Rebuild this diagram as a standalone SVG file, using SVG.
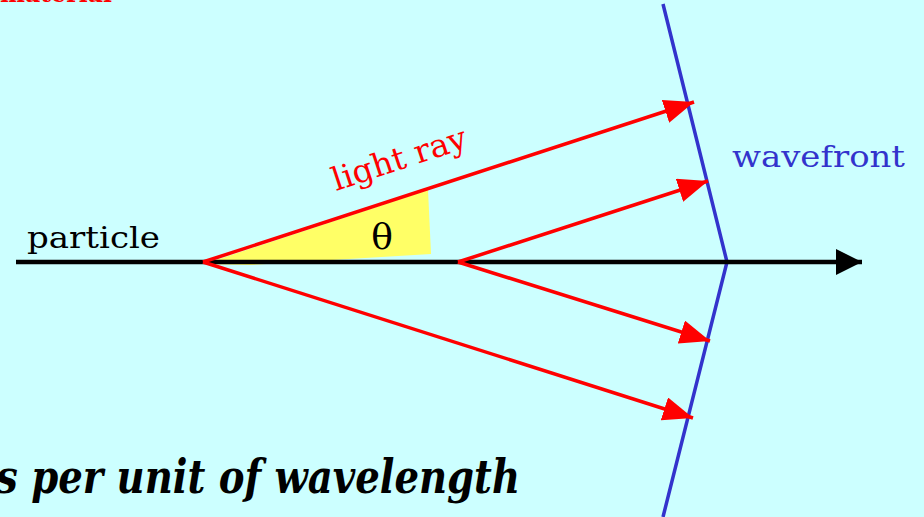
<svg xmlns="http://www.w3.org/2000/svg" width="924" height="517" viewBox="0 0 924 517">
<defs>
<style>
.ray{stroke:#FF0000;stroke-width:3.5;fill:none}
.serif{font-family:"DejaVu Serif","Liberation Serif",serif}
</style>
<marker id="ah" viewBox="0 0 30 24" refX="30" refY="12" markerWidth="30" markerHeight="24" markerUnits="userSpaceOnUse" orient="auto">
<path d="M0,0 L30,12 L0,24 Z" fill="#FF0000"/>
</marker>
<marker id="bh" viewBox="0 0 26 26" refX="26" refY="13" markerWidth="26" markerHeight="26" markerUnits="userSpaceOnUse" orient="auto">
<path d="M0,0 L26,13 L0,26 Z" fill="#000000"/>
</marker>
</defs>
<rect x="0" y="0" width="924" height="517" fill="#CCFFFF"/>
<g id="top-label">
<text class="serif" x="0" y="2" font-size="24" font-weight="bold" fill="#FF0000" textLength="112" lengthAdjust="spacingAndGlyphs">material</text>
</g>
<g id="angle">
<polygon points="204,264 428,190 431,254 250,265" fill="#FFFF66"/>
<text class="serif" x="382" y="249" font-size="36" text-anchor="middle" fill="#000000">θ</text>
</g>
<g id="wavefront">
<polyline points="663,4 727,262 663,517" fill="none" stroke="#3333CC" stroke-width="3.5"/>
<text class="serif" x="732" y="167" font-size="30" fill="#3333CC" textLength="173" lengthAdjust="spacingAndGlyphs">wavefront</text>
</g>
<g id="particle">
<text class="serif" x="27" y="248" font-size="30" fill="#000000" textLength="133" lengthAdjust="spacingAndGlyphs">particle</text>
</g>
<g id="connectors">
<line x1="16" y1="262" x2="862" y2="262" stroke="#000000" stroke-width="4.5" marker-end="url(#bh)"/>
<line class="ray" x1="203" y1="262" x2="694" y2="102" marker-end="url(#ah)"/>
<line class="ray" x1="203" y1="262" x2="693" y2="418" marker-end="url(#ah)"/>
<line class="ray" x1="458" y1="262" x2="708" y2="181" marker-end="url(#ah)"/>
<line class="ray" x1="458" y1="262" x2="710" y2="341" marker-end="url(#ah)"/>
</g>
<g id="light-ray-label">
<text class="serif" x="0" y="0" font-size="32" fill="#FF0000" transform="translate(336,191) rotate(-18.3)" textLength="140" lengthAdjust="spacingAndGlyphs">light ray</text>
</g>
<g id="bottom-text">
<text class="serif" x="-4" y="493" font-size="46" font-weight="bold" font-style="italic" fill="#000000" textLength="524" lengthAdjust="spacingAndGlyphs">s per unit of wavelength</text>
</g>
</svg>
